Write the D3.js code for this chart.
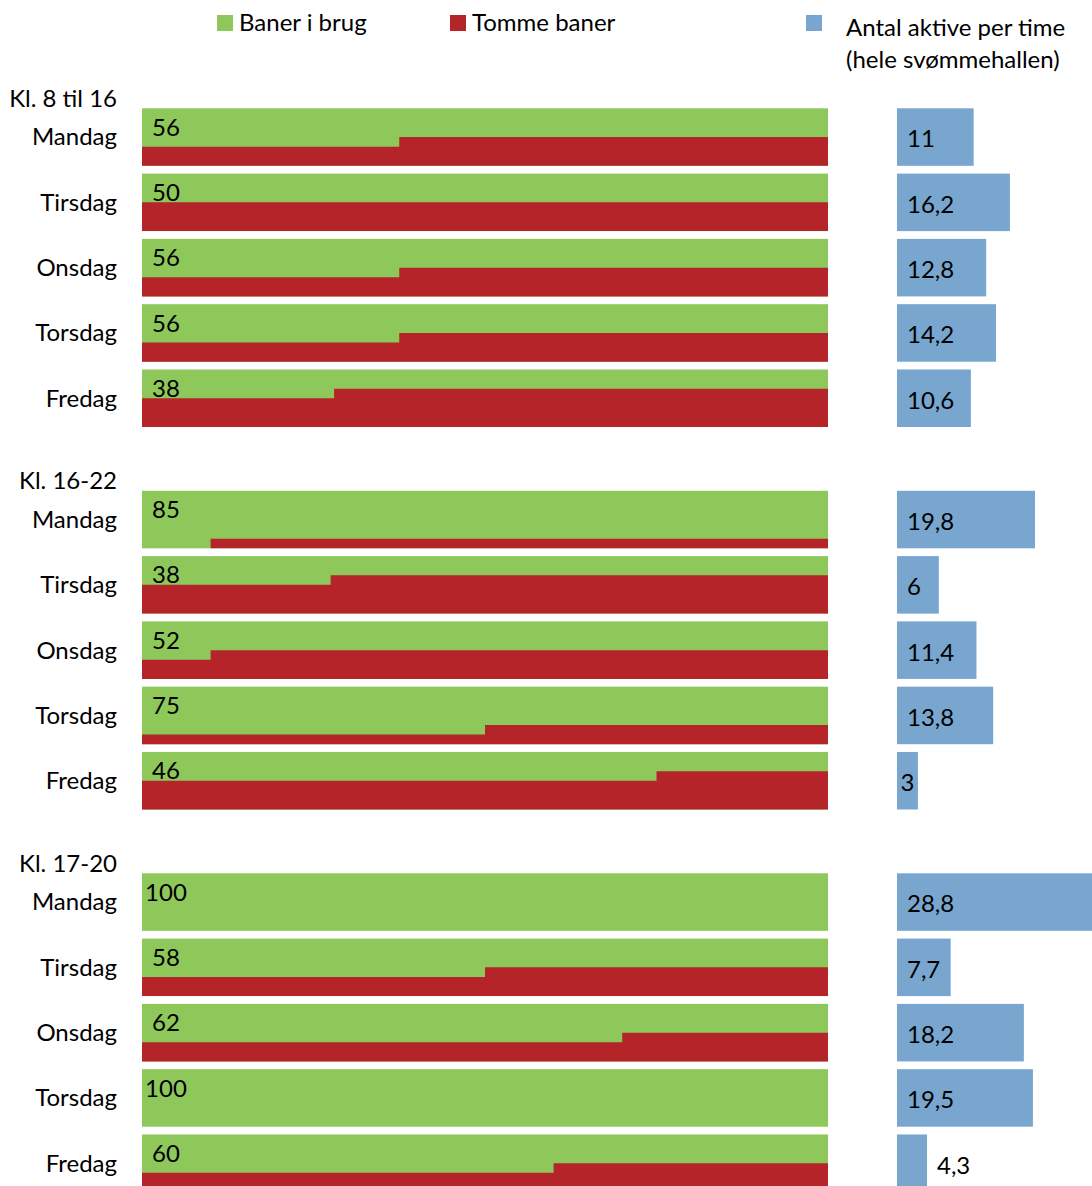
<!DOCTYPE html>
<html>
<head>
<meta charset="utf-8">
<script src="https://cdn.jsdelivr.net/npm/d3@7"></script>
<style>
  body { margin: 0; background: #fff; }
  svg text { font-family: Lato, "Open Sans", sans-serif; fill: #000; font-size: 24px; }
</style>
</head>
<body>
<svg id="chart" width="1092" height="1186"></svg>
<script>
// periods and days
const periods = ["Kl. 8 til 16", "Kl. 16-22", "Kl. 17-20"];
const days = ["Mandag", "Tirsdag", "Onsdag", "Torsdag", "Fredag"];

// % of lanes in use (label on the green band)
const pctInUse = [
    [56, 50, 56, 56, 38],
    [85, 38, 52, 75, 46],
    [100, 58, 62, 100, 60]
];

// empty lanes (of 6) in the first part and in the rest of the period
const totalLanes = 6;
const emptyFirst = [
    [2, 3, 2, 2, 3],
    [0, 3, 2, 1, 3],
    [0, 2, 2, 0, 2]
];
const emptyLater = [
    [3, 3, 3, 3, 4],
    [1, 4, 3, 2, 4],
    [0, 3, 3, 0, 3]
];
// where in the period (% of time) the number of empty lanes changes
const changeAt = [
    [37.5, 0, 37.5, 37.5, 28],
    [10, 27.5, 10, 50, 75],
    [0, 50, 70, 0, 60]
];

// active swimmers per hour (whole pool)
const activePerHour = [
    [11, 16.2, 12.8, 14.2, 10.6],
    [19.8, 6, 11.4, 13.8, 3],
    [28.8, 7.7, 18.2, 19.5, 4.3]
];

const legendItems = ["Baner i brug", "Tomme baner"];
const blueLegend = ["Antal aktive per time", "(hele svømmehallen)"];

const green = "#8ec85b", red = "#b42428", blue = "#78a6cf";

var svg = d3.select("#chart");

// scales
var x = d3.scaleLinear().domain([0, 100]).range([142, 828]);
var xBlue = d3.scaleLinear().domain([0, 30]).range([897, 897 + 209.1]);
var groupTop = d3.scaleLinear().domain([0, 1]).range([108.3, 490.8]);
var y = d3.scaleBand().domain(days).range([0, 318.7]).paddingInner(0.119).paddingOuter(0);
var lanes = d3.scaleLinear().domain([0, totalLanes]).range([0, y.bandwidth()]);

var fmt = function (v) { return String(v).replace(".", ","); };

// legend
var leg = svg.append("g").attr("class", "legend");
[[217, green, legendItems[0]], [450, red, legendItems[1]]].forEach(function (d) {
    leg.append("rect").attr("x", d[0]).attr("y", 15).attr("width", 16).attr("height", 16).attr("fill", d[1]);
    leg.append("text").attr("x", d[0] + 22).attr("y", 23).attr("dy", "0.35em").text(d[2]);
});
leg.append("rect").attr("x", 806).attr("y", 15).attr("width", 16).attr("height", 16).attr("fill", blue);
blueLegend.forEach(function (t, i) {
    leg.append("text").attr("x", 846).attr("y", 28 + i * 32).attr("dy", "0.35em").text(t);
});

var area = d3.area()
    .curve(d3.curveStepAfter)
    .x(function (d) { return x(d.t); })
    .y0(function (d) { return d.base; })
    .y1(function (d) { return d.base - lanes(d.e); });

periods.forEach(function (period, g) {
    var top = groupTop(g);
    var grp = svg.append("g").attr("transform", "translate(0," + top + ")");

    grp.append("text")
        .attr("x", 117).attr("y", -10).attr("dy", "0.35em")
        .attr("text-anchor", "end")
        .text(period);

    var rows = grp.selectAll("g.row")
        .data(days.map(function (day, i) {
            return {
                day: day, pct: pctInUse[g][i], active: activePerHour[g][i],
                e1: emptyFirst[g][i], e2: emptyLater[g][i], at: changeAt[g][i]
            };
        }))
        .enter().append("g")
        .attr("class", "row")
        .attr("transform", function (d) { return "translate(0," + y(d.day) + ")"; });

    var bw = y.bandwidth();

    // day label
    rows.append("text")
        .attr("x", 117).attr("y", bw / 2).attr("dy", "0.35em")
        .attr("text-anchor", "end")
        .text(function (d) { return d.day; });

    // green band (lanes in use)
    rows.append("rect")
        .attr("x", x(0)).attr("y", 0)
        .attr("width", x(100) - x(0)).attr("height", bw)
        .attr("fill", green);

    // red step area (empty lanes)
    rows.append("path")
        .attr("fill", red)
        .attr("d", function (d) {
            var pts = [{ t: 0, e: d.e1, base: bw }];
            if (d.at > 0) pts.push({ t: d.at, e: d.e2, base: bw });
            pts.push({ t: 100, e: d.e2, base: bw });
            return area(pts);
        });

    rows.append("text")
        .attr("x", 166).attr("y", 19).attr("dy", "0.35em")
        .attr("text-anchor", "middle")
        .text(function (d) { return d.pct; });

    // blue bars
    rows.append("rect")
        .attr("x", xBlue(0)).attr("y", 0)
        .attr("width", function (d) { return xBlue(d.active) - xBlue(0); })
        .attr("height", bw)
        .attr("fill", blue);

    rows.append("text")
        .attr("y", bw / 2 + 2).attr("dy", "0.35em")
        .text(function (d) { return fmt(d.active); })
        .attr("x", function (d) {
            var w = this.getComputedTextLength();
            var bar = xBlue(d.active) - xBlue(0);
            if (w + 6 > bar) return xBlue(d.active) + 10;
            return xBlue(0) + Math.min(10, (bar - w) / 2);
        });
});
</script>
</body>
</html>
